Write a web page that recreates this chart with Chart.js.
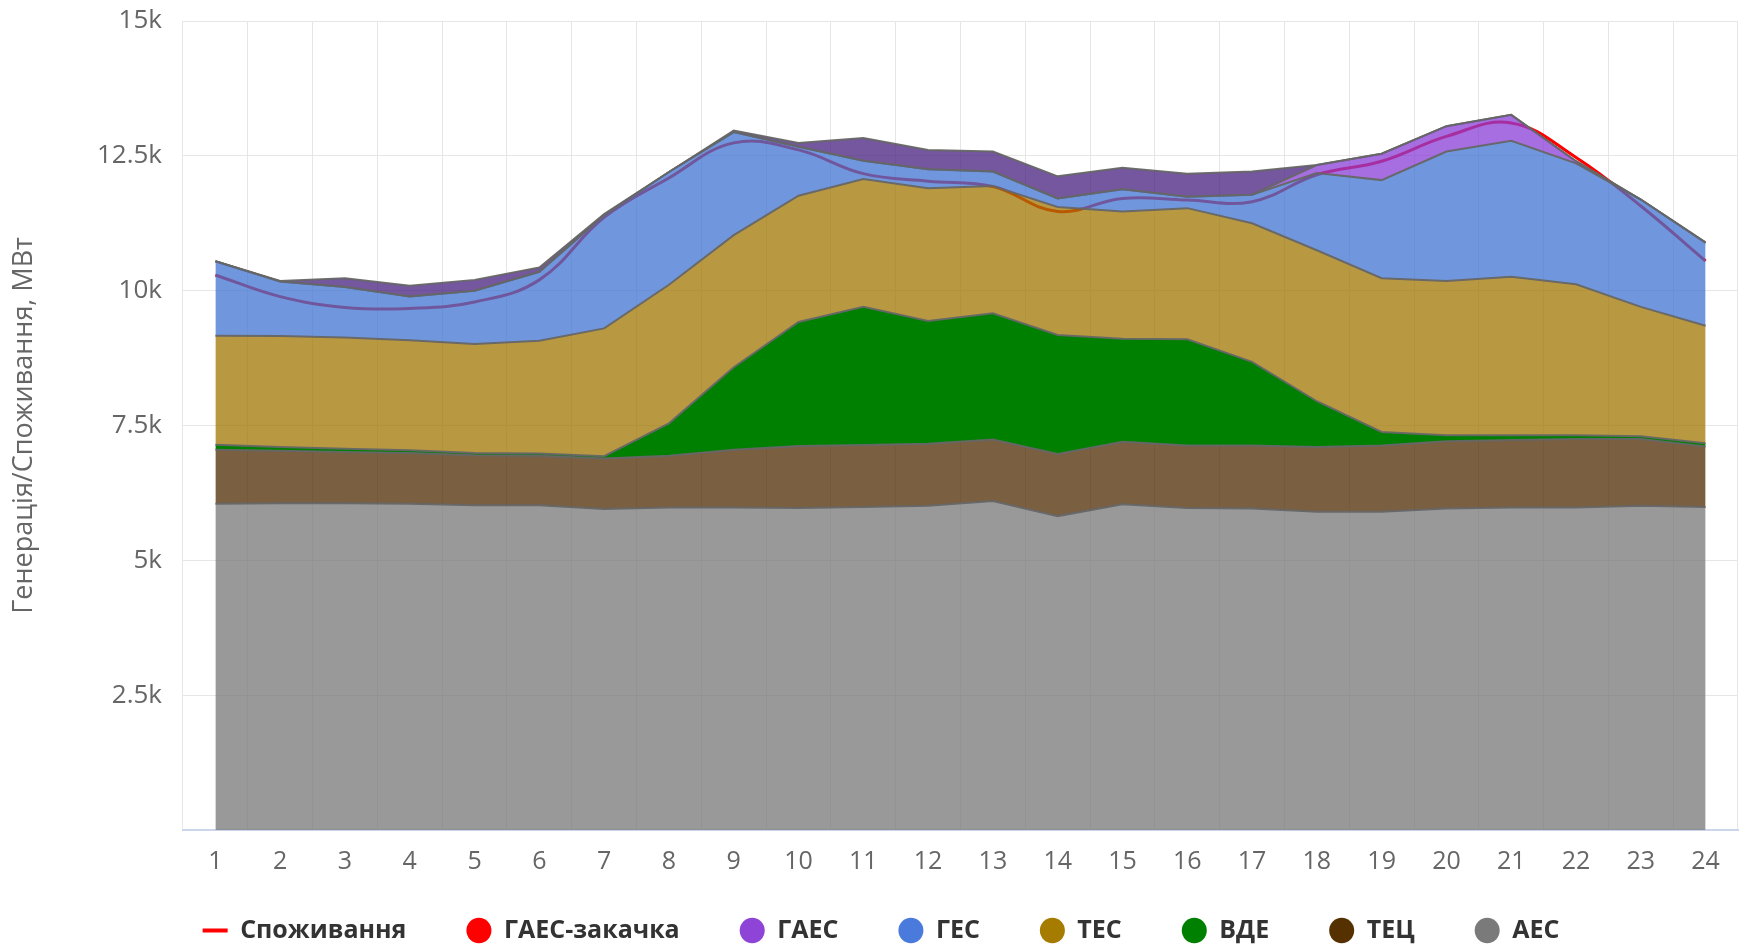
<!DOCTYPE html>
<html lang="uk">
<head>
<meta charset="utf-8">
<title>Генерація/Споживання</title>
<script src="https://cdn.jsdelivr.net/npm/chart.js@4/dist/chart.umd.min.js"></script>
<style>
    html, body { margin: 0; padding: 0; background: #fff; }
    #wrap { width: 1746px; height: 948px; }
</style>
</head>
<body>
<div id="wrap"><canvas id="energyChart"></canvas></div>
<script>
const hours = ['1', '2', '3', '4', '5', '6', '7', '8', '9', '10', '11', '12',
               '13', '14', '15', '16', '17', '18', '19', '20', '21', '22', '23', '24'];

// MW per hour, stacked from the bottom up
const aes  = [6050, 6060, 6060, 6050, 6020, 6020, 5950, 5980, 5980, 5970, 5990, 6010,
              6100, 5820, 6040, 5970, 5960, 5900, 5900, 5960, 5980, 5980, 6010, 5990];
const tec  = [1000, 970, 950, 940, 930, 920, 940, 960, 1070, 1150, 1150, 1150,
              1140, 1150, 1160, 1160, 1170, 1200, 1230, 1250, 1250, 1270, 1240, 1120];
const vde  = [95, 70, 60, 50, 40, 40, 40, 600, 1530, 2300, 2560, 2280,
              2340, 2210, 1910, 1970, 1550, 850, 250, 110, 90, 70, 50, 60];
const tes  = [2020, 2060, 2060, 2040, 2020, 2090, 2370, 2570, 2450, 2340, 2370, 2460,
              2360, 2370, 2360, 2430, 2570, 2800, 2850, 2860, 2940, 2800, 2400, 2180];
const ges  = [1380, 1010, 940, 810, 990, 1280, 2100, 2090, 1910, 910, 340, 350,
              270, 160, 410, 210, 530, 1430, 1820, 2400, 2520, 2240, 1990, 1540];
const gaes = [0, 0, 0, 0, 0, 0, 0, 0, 0, 0, 0, 0,
              0, 0, 0, 0, 0, 150, 490, 470, 480, 40, 0, 0];
const gaesPump = [0, 10, 160, 200, 200, 80, 20, 0, 30, 70, 420, 360,
                  370, 410, 400, 430, 430, 0, 0, 0, 0, 0, 0, 0];
const consumption = [10290, 9890, 9690, 9670, 9790, 10200, 11360, 12090, 12740, 12610, 12170, 12030,
                     11930, 11470, 11710, 11680, 11650, 12150, 12400, 12860, 13110, 12470, 11570, 10550];

const yTicks = [0, 2500, 5000, 7500, 10000, 12500, 15000];

Chart.defaults.font.family = '"Open Sans", "Noto Sans", sans-serif';
Chart.defaults.color = '#666666';

const edgeColor = 'rgba(102, 102, 102, 0.95)';

function area(label, data, fill, color, legendColor) {
    return {
        label: label,
        data: data,
        fill: fill,
        backgroundColor: color,
        borderColor: edgeColor,
        borderWidth: 2,
        pointRadius: 0,
        pointHoverRadius: 0,
        tension: 0,
        stack: 'gen',
        order: 0,
        legendColor: legendColor
    };
}

const datasets = [
    area('АЕС', aes, 'origin', 'rgba(119, 119, 119, 0.75)', '#7a7a7a'),
    area('ТЕЦ', tec, '-1', 'rgba(77, 41, 0, 0.75)', '#553100'),
    area('ВДЕ', vde, '-1', '#008000', '#008000'),
    area('ТЕС', tes, '-1', 'rgba(160, 117, 0, 0.75)', '#a67c00'),
    area('ГЕС', ges, '-1', 'rgba(64, 116, 209, 0.75)', '#4a7bdc'),
    area('ГАЕС', gaes, '-1', 'rgba(136, 61, 213, 0.75)', '#8e44d6'),
    area('ГАЕС-закачка', gaesPump, '-1', 'rgba(71, 31, 128, 0.75)', '#ff0000'),
    {
        label: 'Споживання',
        data: consumption,
        fill: false,
        borderColor: '#ff0000',
        borderWidth: 3,
        pointRadius: 0,
        pointHoverRadius: 0,
        tension: 0.4,
        stack: 'consumption',
        order: 10,
        legendColor: '#ff0000'
    }
];

// the legend padding also spaces the items apart, so lift the box a little
const legendNudge = {
    id: 'legendNudge',
    afterLayout(chart) {
        const legend = chart.legend;
        legend.top -= 12;
        legend.left += 12;
        legend.right += 12;
    }
};

new Chart(document.getElementById('energyChart'), {
    type: 'line',
    data: { labels: hours, datasets: datasets },
    plugins: [legendNudge],
    options: {
        responsive: true,
        maintainAspectRatio: false,
        animation: false,
        layout: { padding: { top: 21, right: 8, left: 0, bottom: 0 } },
        scales: {
            x: {
                offset: true,
                grid: { color: '#e6e6e6', offset: true, drawTicks: false },
                border: { color: '#ccd6eb', width: 2 },
                ticks: { color: '#666666', font: { size: 25 }, padding: 17, maxRotation: 0 },
                afterFit: (scale) => { scale.height = 40; }
            },
            y: {
                stacked: true,
                min: 0,
                max: 15000,
                grid: { color: '#e6e6e6', drawTicks: false },
                border: { display: false },
                afterBuildTicks: (scale) => { scale.ticks = yTicks.map(v => ({ value: v })); },
                ticks: {
                    color: '#666666',
                    font: { size: 26 },
                    padding: 21,
                    callback: (value) => value === 0 ? '' : (value / 1000) + 'k'
                },
                title: {
                    display: true,
                    text: 'Генерація/Споживання, МВт',
                    color: '#666666',
                    font: { size: 27 },
                    padding: { top: 8, bottom: 0 }
                },
                afterFit: (scale) => {
                    scale.width = 183;
                    scale.paddingTop = 0;
                    scale.paddingBottom = 0;
                }
            }
        },
        plugins: {
            tooltip: { enabled: false },
            legend: {
                position: 'bottom',
                reverse: true,
                maxHeight: 78,
                labels: {
                    usePointStyle: true,
                    pointStyleWidth: 25,
                    boxHeight: 18,
                    padding: 60,
                    color: '#333333',
                    font: { size: 25, weight: 'bold' },
                    generateLabels: (chart) => {
                        const items = Chart.defaults.plugins.legend.labels.generateLabels(chart);
                        items.forEach(item => {
                            const ds = chart.data.datasets[item.datasetIndex];
                            item.fillStyle = ds.legendColor;
                            item.strokeStyle = ds.legendColor;
                            if (ds.stack === 'consumption') {
                                item.pointStyle = 'line';
                                item.lineWidth = 4;
                            } else {
                                item.pointStyle = 'circle';
                                item.lineWidth = 0;
                            }
                        });
                        return items;
                    }
                }
            }
        }
    }
});
</script>
</body>
</html>
